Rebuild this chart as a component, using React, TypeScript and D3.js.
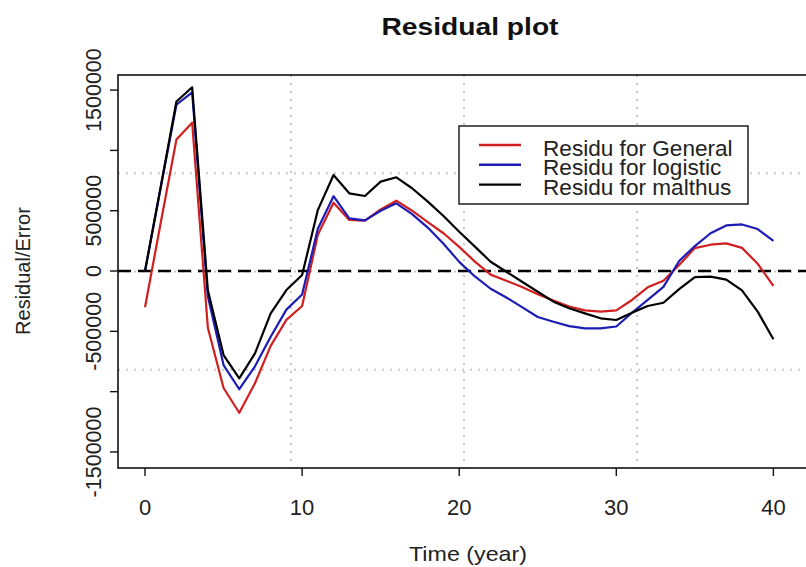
import { useMemo } from 'react'
import { line, range, scaleLinear } from 'd3'

// Residual plot (R base graphics look) — three residual series against time in years.

const years = range(0, 41)

const residGeneral = [
  -300000, 400000, 1090000, 1230000, -470000, -970000, -1175000, -930000, -620000, -405000,
  -290000, 300000, 566000, 423000, 418000, 510000, 583000, 500000, 405000, 313000,
  200000, 78000, -30000, -80000, -133000, -192000, -244000, -294000, -326000, -337000,
  -326000, -240000, -135000, -80000, 50000, 190000, 218000, 229000, 192000, 60000,
  -124000,
]

const residLogistic = [
  0, 690000, 1380000, 1480000, -210000, -780000, -980000, -790000, -545000, -320000,
  -195000, 350000, 620000, 437000, 420000, 500000, 561000, 472000, 360000, 226000,
  76000, -45000, -147000, -220000, -299000, -381000, -420000, -457000, -475000, -475000,
  -460000, -346000, -240000, -131000, 83000, 207000, 313000, 378000, 386000, 348000,
  249000,
]

const residMalthus = [
  0, 700000, 1405000, 1523000, -160000, -697000, -890000, -683000, -351000, -158000,
  -33000, 505000, 796000, 644000, 622000, 741000, 777000, 686000, 575000, 456000,
  326000, 202000, 77000, -6000, -89000, -172000, -254000, -309000, -351000, -392000,
  -406000, -345000, -290000, -263000, -150000, -50000, -47000, -72000, -160000, -337000,
  -565000,
]

const seriesNames = ['Residu for General', 'Residu for logistic', 'Residu for malthus']
const seriesColors = ['#d11f1f', '#1c1cb4', '#000000']

const xTicks = [0, 10, 20, 30, 40]
const yTicks = [-1500000, -1000000, -500000, 0, 500000, 1000000, 1500000]
// R drops the labels that would overlap
const yTickLabels = ['-1500000', '', '-500000', '0', '500000', '', '1500000']

const W = 806
const H = 567
const BOX = { left: 118, top: 75, right: 810, bottom: 468 }
const FONT = '"Liberation Sans", Arial, sans-serif'

export default function App() {
  const x = useMemo(() => scaleLinear().domain([-1.72, 42.33]).range([BOX.left, BOX.right]), [])
  const y = useMemo(() => scaleLinear().domain([-1633000, 1625000]).range([BOX.bottom, BOX.top]), [])

  const all = [residGeneral, residLogistic, residMalthus]
  const path = line<number>()
    .x((_, i) => x(years[i]))
    .y((d) => y(d))

  // grid(4, 4): lines splitting the plotting region into quarters
  const [x0, x1] = x.domain()
  const [y0, y1] = y.domain()
  const gridX = [1, 2, 3].map((k) => x0 + ((x1 - x0) * k) / 4)
  const gridY = [1, 2, 3].map((k) => y0 + ((y1 - y0) * k) / 4)

  const legX = 459
  const legY = 126
  const legRow = 19.8

  return (
    <svg
      width={W}
      height={H}
      viewBox={`0 0 ${W} ${H}`}
      style={{ position: 'absolute', left: 0, top: 0, background: '#fff', fontFamily: FONT }}
    >
      <rect x={0} y={0} width={W} height={H} fill="#fff" />
      <text x={470} y={35} textAnchor="middle" fontWeight="bold" fontSize={24} textLength={177} lengthAdjust="spacingAndGlyphs" fill="#111">
        Residual plot
      </text>

      {gridX.map((g) => (
        <line key={`gx${g}`} x1={x(g)} x2={x(g)} y1={BOX.top} y2={BOX.bottom} stroke="#c8c8c8" strokeWidth={2} strokeDasharray="2 6" />
      ))}
      {gridY.map((g) => (
        <line key={`gy${g}`} x1={BOX.left} x2={BOX.right} y1={y(g)} y2={y(g)} stroke="#c8c8c8" strokeWidth={2} strokeDasharray="2 6" />
      ))}

      <line x1={BOX.left} x2={BOX.right} y1={y(0)} y2={y(0)} stroke="#000" strokeWidth={2.6} strokeDasharray="13 7" />

      {all.map((s, i) => (
        <path key={seriesNames[i]} d={path(s) ?? ''} fill="none" stroke={seriesColors[i]} strokeWidth={2.2} strokeLinejoin="round" />
      ))}

      <rect
        x={BOX.left}
        y={BOX.top}
        width={BOX.right - BOX.left}
        height={BOX.bottom - BOX.top}
        fill="none"
        stroke="#111"
        strokeWidth={1.6}
      />

      {/* y axis */}
      {yTicks.map((t, i) => (
        <g key={`yt${t}`}>
          <line x1={BOX.left - 8} x2={BOX.left} y1={y(t)} y2={y(t)} stroke="#111" strokeWidth={1.4} />
          {yTickLabels[i] && (
            <text
              transform={`translate(${101}, ${y(t)}) rotate(-90)`}
              textAnchor="middle"
              fontSize={21.5}
              fill="#222"
            >
              {yTickLabels[i]}
            </text>
          )}
        </g>
      ))}
      <text transform={`translate(30, ${y(0)}) rotate(-90)`} textAnchor="middle" fontSize={20} fill="#222">
        Residual/Error
      </text>

      {/* x axis */}
      {xTicks.map((t) => (
        <g key={`xt${t}`}>
          <line x1={x(t)} x2={x(t)} y1={BOX.bottom} y2={BOX.bottom + 8} stroke="#111" strokeWidth={1.4} />
          <text x={x(t)} y={BOX.bottom + 47} textAnchor="middle" fontSize={22} fill="#222">
            {t}
          </text>
        </g>
      ))}
      <text x={468} y={561} textAnchor="middle" fontSize={21} textLength={118} lengthAdjust="spacingAndGlyphs" fill="#222">
        Time (year)
      </text>

      {/* legend */}
      <rect x={legX} y={legY} width={289} height={78} fill="#fff" stroke="#111" strokeWidth={1.4} />
      {seriesNames.map((n, i) => (
        <g key={n}>
          <line
            x1={legX + 20}
            x2={legX + 62}
            y1={legY + 19 + i * legRow}
            y2={legY + 19 + i * legRow}
            stroke={seriesColors[i]}
            strokeWidth={2.4}
          />
          <text x={legX + 84} y={legY + 29.5 + i * legRow} fontSize={22.6} fill="#222">
            {n}
          </text>
        </g>
      ))}
    </svg>
  )
}
